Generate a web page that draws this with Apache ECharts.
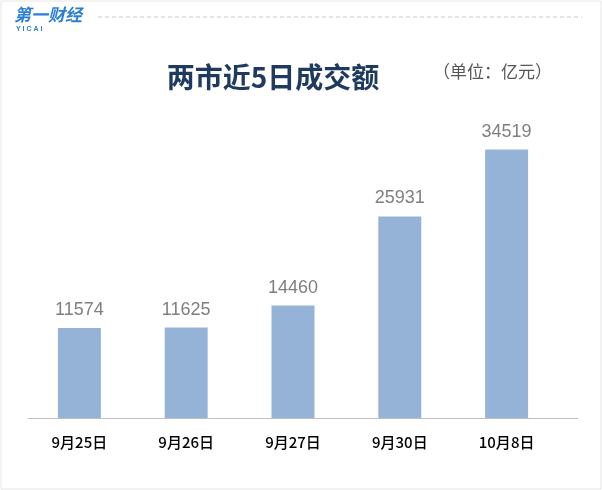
<!DOCTYPE html>
<html><head><meta charset="utf-8">
<script src="https://cdn.jsdelivr.net/npm/echarts@6/dist/echarts.min.js"></script>
<style>html,body{margin:0;padding:0;background:#fff}#c{width:602px;height:490px}</style>
</head><body><div id="c"></div>
<script>
const categories = ['9月25日','9月26日','9月27日','9月30日','10月8日'];
const values = [11574, 11625, 14460, 25931, 34519];
const chart = echarts.init(document.getElementById('c'));
chart.setOption({
  animation:false,
  graphic:[
    {type:'rect',shape:{x:1,y:1,width:600,height:488},style:{fill:'none',stroke:'#e6e6e6',lineWidth:1}},
    {type:'text',left:14,top:6,style:{text:'第一财经',fill:'#2a7fd4',font:'italic bold 17px "Noto Sans CJK SC"'}},
    {type:'text',left:16,top:26,style:{text:'Y I C A I',fill:'#2a7fd4',font:'bold 7px sans-serif'}},
    {type:'line',shape:{x1:98,y1:17,x2:582,y2:17},style:{stroke:'#c8c8c8',lineDash:[4,3],lineWidth:1}},
    {type:'line',shape:{x1:28,y1:418.5,x2:578,y2:418.5},style:{stroke:'#bfbfbf',lineWidth:1}}
  ],
  title:[
    {text:'两市近5日成交额',left:268,top:58,textAlign:'center',textStyle:{color:'#1f3a5f',fontSize:28,fontWeight:'bold',fontFamily:'Noto Sans CJK SC'}},
    {text:'（单位：亿元）',left:428,top:58,textStyle:{color:'#555',fontSize:17,fontWeight:'normal',fontFamily:'Noto Sans CJK SC'}}
  ],
  grid:{left:26,right:42,top:107,bottom:72},
  xAxis:{type:'category',data:categories,axisLine:{show:false},axisTick:{show:false},
    axisLabel:{color:'#000',fontSize:15,fontWeight:'500',margin:17,fontFamily:'Noto Sans CJK SC'}},
  yAxis:{type:'value',min:0,max:40000,show:false,splitLine:{show:false}},
  series:[{type:'bar',data:values,barWidth:43,itemStyle:{color:'#95b3d7'},
    label:{show:true,position:'top',distance:9,color:'#7f7f7f',fontSize:18,fontFamily:'Liberation Sans'}}]
});
</script></body></html>
